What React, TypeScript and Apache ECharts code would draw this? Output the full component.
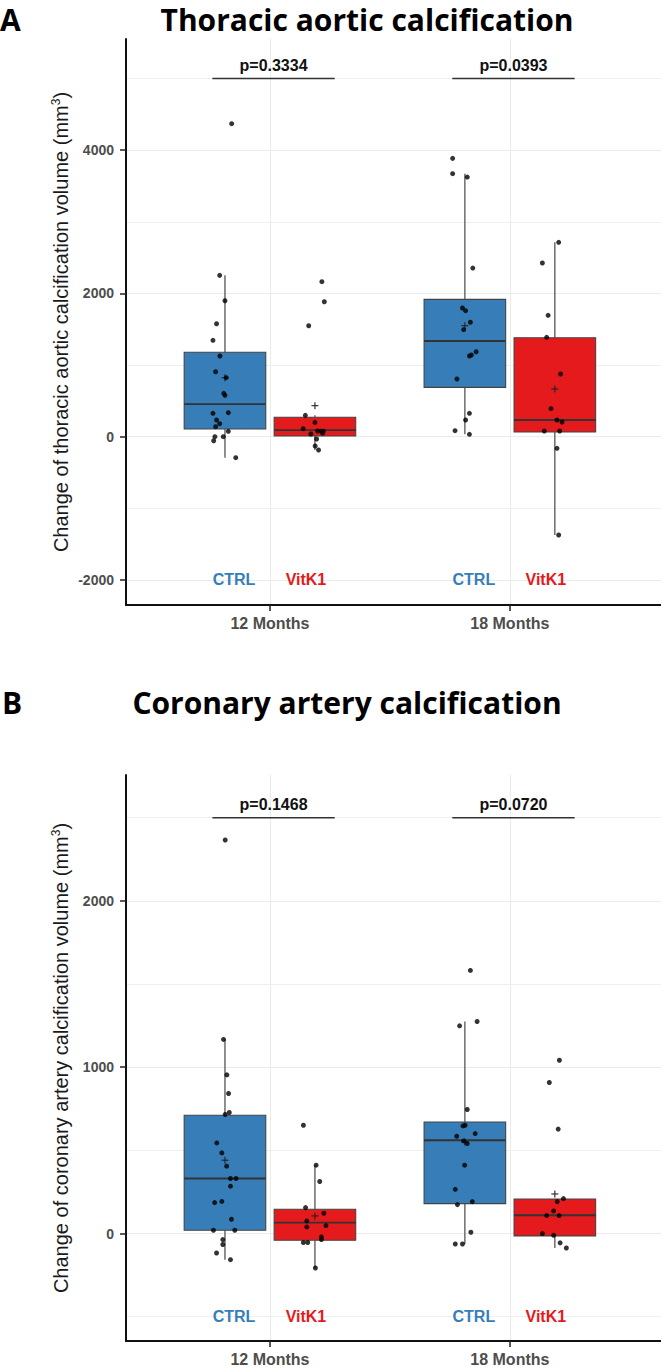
import React, { useEffect, useRef } from "react";
import * as echarts from "echarts";

// ---------- shared ----------
const timepoints = ["12 Months", "18 Months"];
const groupNames = ["CTRL", "VitK1"];
const groupColors = ["#377EB8", "#E41A1C"];

// ---------- Panel A: thoracic aortic calcification (mm3) ----------
const tacCtrl12 = [4369, 2252, 1898, 1577, 1345, 1126, 907, 824, 605, 577, 326, 335, 233, 182, 140, 75, 0, 0, -56, -293];
const tacCtrl12Jitter = [0.028, -0.022, 0, -0.035, -0.05, -0.021, -0.039, 0.005, -0.005, 0, -0.05, 0.014, -0.035, -0.022, -0.039, 0.014, -0.042, -0.007, -0.047, 0.045];
const tacVitK12 = [2164, 1884, 1549, 298, 200, 112, 38, 80, 77, 77, 49, -32, -130, -186];
const tacVitK12Jitter = [0.029, 0.039, -0.026, -0.04, 0, -0.049, -0.017, 0.011, 0.025, 0.035, 0.032, 0.007, 0.001, 0.015];
const tacCtrl18 = [3885, 3671, 3624, 2354, 1796, 1759, 1597, 1494, 1186, 1140, 1126, 805, 326, 233, 84, 33];
const tacCtrl18Jitter = [-0.051, -0.051, 0.01, 0.033, -0.01, 0.003, 0.023, -0.005, 0.047, 0.027, 0.019, -0.033, 0.019, 0.003, -0.041, 0.019];
const tacVitK18 = [2713, 2424, 1694, 1387, 875, 391, 233, 205, 80, 80, -162, -1372];
const tacVitK18Jitter = [0.016, -0.052, -0.028, -0.034, 0.024, -0.016, 0.009, 0.03, -0.044, 0.02, 0.009, 0.016];
// [lower whisker, Q1, median, Q3, upper whisker] per time point
const tacBoxCtrl = [[-293, 107, 456, 1178, 2252], [33, 689, 1336, 1917, 3671]];
const tacBoxVitK = [[-186, 10, 93, 271, 298], [-1372, 66, 233, 1382, 2713]];
const tacMeanCtrl = [823, 1549];
const tacMeanVitK = [433, 666];
const tacPValues = ["p=0.3334", "p=0.0393"];
const tacBracketY = 5000;
const tacGroupLabelY = -2000;
const tacYTicks = [-2000, 0, 2000, 4000];
const tacYMinor = [-1000, 1000, 3000, 5000];
const tacYRange = [-2349, 5551];

// ---------- Panel B: coronary artery calcification (mm3) ----------
const cacCtrl12 = [2366, 1167, 954, 842, 728, 716, 545, 485, 405, 331, 331, 285, 186, 193, 86, 20, 20, -36, -66, -117, -157];
const cacCtrl12Jitter = [0.001, -0.006, 0.008, 0.015, 0.018, 0.001, -0.034, -0.013, 0.007, 0.023, 0.046, 0.023, -0.043, -0.013, 0.027, -0.048, 0.041, -0.009, -0.009, -0.035, 0.023];
const cacVitK12 = [651, 411, 313, 156, 122, 76, 48, 40, -20, -36, -54, -54, -207];
const cacVitK12Jitter = [-0.048, 0.005, 0.02, -0.039, 0.037, -0.034, 0.046, -0.034, 0.027, 0.027, -0.048, -0.03, 0.002];
const cacCtrl18 = [1582, 1275, 1249, 746, 651, 647, 601, 585, 557, 541, 411, 266, 192, 174, 8, -63, -63];
const cacCtrl18Jitter = [0.023, 0.051, -0.022, 0.01, 0.001, -0.008, 0.043, -0.034, -0.005, 0.01, -0.001, -0.04, 0.031, -0.031, 0.025, -0.04, -0.01];
const cacVitK18 = [1042, 908, 628, 210, 192, 136, 108, 108, 0, -10, -56, -87];
const cacVitK18Jitter = [0.019, -0.023, 0.014, 0.036, 0.01, -0.005, -0.034, 0.018, -0.052, -0.005, 0.022, 0.048];
const cacBoxCtrl = [[-157, 20, 331, 711, 1167], [-63, 180, 561, 671, 1275]];
const cacBoxVitK = [[-207, -40, 66, 146, 411], [-87, -14, 110, 208, 210]];
const cacMeanCtrl = [441, 551];
const cacMeanVitK = [106, 238];
const cacPValues = ["p=0.1468", "p=0.0720"];
const cacBracketY = 2500;
const cacGroupLabelY = -500;
const cacYTicks = [0, 1000, 2000];
const cacYMinor = [-500, 500, 1500, 2500];
const cacYRange = [-646, 2757];

// ---------- layout constants ----------
const BOX_OFFSET = 0.1875;
const BOX_WIDTH = 0.34;
const LABEL_OFFSET = 0.15;
const X_MIN = 0.4;
const X_MAX = 2.63;
const TICK_FONT = '"Liberation Sans", Arial, sans-serif';
const TITLE_FONT = '"Open Sans", "Liberation Sans", sans-serif';

type PanelData = {
  ctrl: number[][];
  ctrlJitter: number[][];
  vitk: number[][];
  vitkJitter: number[][];
  boxCtrl: number[][];
  boxVitK: number[][];
  meanCtrl: number[];
  meanVitK: number[];
  pValues: string[];
  bracketY: number;
  groupLabelY: number;
  yTicks: number[];
  yMinor: number[];
  yRange: number[];
};

const panels: PanelData[] = [
  {
    ctrl: [tacCtrl12, tacCtrl18],
    ctrlJitter: [tacCtrl12Jitter, tacCtrl18Jitter],
    vitk: [tacVitK12, tacVitK18],
    vitkJitter: [tacVitK12Jitter, tacVitK18Jitter],
    boxCtrl: tacBoxCtrl,
    boxVitK: tacBoxVitK,
    meanCtrl: tacMeanCtrl,
    meanVitK: tacMeanVitK,
    pValues: tacPValues,
    bracketY: tacBracketY,
    groupLabelY: tacGroupLabelY,
    yTicks: tacYTicks,
    yMinor: tacYMinor,
    yRange: tacYRange,
  },
  {
    ctrl: [cacCtrl12, cacCtrl18],
    ctrlJitter: [cacCtrl12Jitter, cacCtrl18Jitter],
    vitk: [cacVitK12, cacVitK18],
    vitkJitter: [cacVitK12Jitter, cacVitK18Jitter],
    boxCtrl: cacBoxCtrl,
    boxVitK: cacBoxVitK,
    meanCtrl: cacMeanCtrl,
    meanVitK: cacMeanVitK,
    pValues: cacPValues,
    bracketY: cacBracketY,
    groupLabelY: cacGroupLabelY,
    yTicks: cacYTicks,
    yMinor: cacYMinor,
    yRange: cacYRange,
  },
];

const gridTops = [39, 775];
const gridHeight = 566;

function buildOption() {
  const grid: any[] = [];
  const xAxis: any[] = [];
  const yAxis: any[] = [];
  const series: any[] = [];

  panels.forEach((p, pi) => {
    grid.push({ left: 126, top: gridTops[pi], width: 535, height: gridHeight, containLabel: false });
    xAxis.push({
      type: "value",
      gridIndex: pi,
      min: X_MIN,
      max: X_MAX,
      axisLine: { show: true, onZero: false, lineStyle: { color: "#111", width: 2 } },
      axisTick: { show: true, customValues: [1, 2], length: 6, lineStyle: { color: "#222", width: 1.5 } },
      axisLabel: {
        show: true,
        customValues: [1, 2],
        formatter: (v: number) => timepoints[Math.round(v) - 1] || "",
        fontFamily: TICK_FONT,
        fontWeight: "bold",
        fontSize: 16,
        color: "#4D4D4D",
        margin: 10,
      },
      splitLine: { show: true, lineStyle: { color: "#EBEBEB", width: 1 } },
    });
    const yMajorIdx = yAxis.length;
    yAxis.push({
      type: "value",
      gridIndex: pi,
      min: p.yRange[0],
      max: p.yRange[1],
      axisLine: { show: true, onZero: false, lineStyle: { color: "#111", width: 2 } },
      axisTick: { show: true, customValues: p.yTicks, length: 6, lineStyle: { color: "#222", width: 1.5 } },
      axisLabel: {
        show: true,
        customValues: p.yTicks,
        formatter: (v: number) => String(v),
        fontFamily: TICK_FONT,
        fontWeight: "bold",
        fontSize: 14,
        color: "#4D4D4D",
        margin: 12,
      },
      splitLine: { show: true, lineStyle: { color: "#EBEBEB", width: 1 } },
    });
    yAxis.push({
      type: "value",
      gridIndex: pi,
      min: p.yRange[0],
      max: p.yRange[1],
      axisLine: { show: false, onZero: false },
      axisTick: { show: false, customValues: p.yMinor },
      axisLabel: { show: false, customValues: p.yMinor },
      splitLine: { show: true, lineStyle: { color: "#EFEFEF", width: 1 } },
    });

    // boxes
    const boxData: number[][] = [];
    timepoints.forEach((_, i) => {
      boxData.push([i + 1 - BOX_OFFSET, ...p.boxCtrl[i], p.meanCtrl[i], 0]);
      boxData.push([i + 1 + BOX_OFFSET, ...p.boxVitK[i], p.meanVitK[i], 1]);
    });
    series.push({
      type: "custom",
      name: "box" + pi,
      xAxisIndex: pi,
      yAxisIndex: yMajorIdx,
      z: 2,
      silent: true,
      data: boxData,
      encode: { x: 0, y: [1, 2, 3, 4, 5] },
      renderItem: (params: any, api: any) => {
        const x = api.value(0);
        const lo = api.coord([x, api.value(1)]);
        const q1 = api.coord([x, api.value(2)]);
        const med = api.coord([x, api.value(3)]);
        const q3 = api.coord([x, api.value(4)]);
        const hi = api.coord([x, api.value(5)]);
        const mean = api.coord([x, api.value(6)]);
        const gi = api.value(7);
        const left = api.coord([x - BOX_WIDTH / 2, api.value(3)])[0];
        const right = api.coord([x + BOX_WIDTH / 2, api.value(3)])[0];
        const cx = med[0];
        const stroke = "#444";
        return {
          type: "group",
          children: [
            { type: "line", shape: { x1: cx, y1: hi[1], x2: cx, y2: q3[1] }, style: { stroke: "#555", lineWidth: 1.3 } },
            { type: "line", shape: { x1: cx, y1: q1[1], x2: cx, y2: lo[1] }, style: { stroke: "#555", lineWidth: 1.3 } },
            {
              type: "rect",
              shape: { x: left, y: q3[1], width: right - left, height: q1[1] - q3[1] },
              style: { fill: groupColors[gi], stroke: stroke, lineWidth: 1.1 },
            },
            { type: "line", shape: { x1: left, y1: med[1], x2: right, y2: med[1] }, style: { stroke: "#333", lineWidth: 1.8 } },
            { type: "line", shape: { x1: cx - 3.5, y1: mean[1], x2: cx + 3.5, y2: mean[1] }, style: { stroke: "#222", lineWidth: 1.1 } },
            { type: "line", shape: { x1: cx, y1: mean[1] - 3.5, x2: cx, y2: mean[1] + 3.5 }, style: { stroke: "#222", lineWidth: 1.1 } },
          ],
        };
      },
    });

    // jittered points
    const pts: number[][] = [];
    timepoints.forEach((_, i) => {
      p.ctrl[i].forEach((v, k) => pts.push([i + 1 - BOX_OFFSET + p.ctrlJitter[i][k], v]));
      p.vitk[i].forEach((v, k) => pts.push([i + 1 + BOX_OFFSET + p.vitkJitter[i][k], v]));
    });
    series.push({
      type: "scatter",
      name: "points" + pi,
      xAxisIndex: pi,
      yAxisIndex: yMajorIdx,
      z: 4,
      silent: true,
      symbol: "circle",
      symbolSize: 5,
      itemStyle: { color: "#000" },
      data: pts,
    });

    // group labels + p-value brackets
    const annData: number[][] = [];
    timepoints.forEach((_, i) => {
      annData.push([i + 1 - LABEL_OFFSET, p.groupLabelY, 0, i]);
      annData.push([i + 1 + LABEL_OFFSET, p.groupLabelY, 1, i]);
      annData.push([i + 1, p.bracketY, 2, i]);
    });
    series.push({
      type: "custom",
      name: "ann" + pi,
      xAxisIndex: pi,
      yAxisIndex: yMajorIdx,
      z: 5,
      silent: true,
      data: annData,
      encode: { x: 0, y: 1 },
      renderItem: (params: any, api: any) => {
        const kind = api.value(2);
        const ti = api.value(3);
        const pt = api.coord([api.value(0), api.value(1)]);
        if (kind < 2) {
          return {
            type: "text",
            x: pt[0],
            y: pt[1],
            style: {
              text: groupNames[kind],
              fill: groupColors[kind],
              fontFamily: TICK_FONT,
              fontWeight: "bold",
              fontSize: 16,
              align: "center",
              verticalAlign: "middle",
            },
          };
        }
        const x1 = api.coord([api.value(0) - 0.24, api.value(1)])[0];
        const x2 = api.coord([api.value(0) + 0.27, api.value(1)])[0];
        return {
          type: "group",
          children: [
            { type: "line", shape: { x1, y1: pt[1], x2, y2: pt[1] }, style: { stroke: "#333", lineWidth: 1.6 } },
            {
              type: "text",
              x: (x1 + x2) / 2,
              y: pt[1] - 5,
              style: {
                text: p.pValues[ti],
                fill: "#111",
                fontFamily: TICK_FONT,
                fontWeight: "bold",
                fontSize: 16,
                align: "center",
                verticalAlign: "bottom",
              },
            },
          ],
        };
      },
    });
  });

  const axisTitleRich = {
    a: { fontFamily: TICK_FONT, fontSize: 20, fill: "#1A1A1A", color: "#1A1A1A" },
    sup: { fontFamily: TICK_FONT, fontSize: 12, fill: "#1A1A1A", color: "#1A1A1A", verticalAlign: "top", padding: [0, 0, 10, 0] },
  };

  const graphic = [
    {
      type: "text",
      x: 0,
      y: 19,
      style: { text: "A", fontFamily: TITLE_FONT, fontWeight: "bold", fontSize: 30, fill: "#000", align: "left", verticalAlign: "middle" },
    },
    {
      type: "text",
      x: 367,
      y: 19,
      style: {
        text: "Thoracic aortic calcification",
        fontFamily: TITLE_FONT,
        fontWeight: "bold",
        fontSize: 30,
        fill: "#000",
        align: "center",
        verticalAlign: "middle",
      },
    },
    {
      type: "text",
      x: 2,
      y: 702,
      style: { text: "B", fontFamily: TITLE_FONT, fontWeight: "bold", fontSize: 30, fill: "#000", align: "left", verticalAlign: "middle" },
    },
    {
      type: "text",
      x: 347,
      y: 702,
      style: {
        text: "Coronary artery calcification",
        fontFamily: TITLE_FONT,
        fontWeight: "bold",
        fontSize: 30,
        fill: "#000",
        align: "center",
        verticalAlign: "middle",
      },
    },
    {
      type: "text",
      x: 61,
      y: gridTops[0] + gridHeight / 2,
      rotation: Math.PI / 2,
      style: {
        text: "{a|Change of thoracic aortic calcification volume (mm}{sup|3}{a|)}",
        rich: axisTitleRich,
        align: "center",
        verticalAlign: "middle",
      },
    },
    {
      type: "text",
      x: 61,
      y: gridTops[1] + gridHeight / 2,
      rotation: Math.PI / 2,
      style: {
        text: "{a|Change of coronary artery calcification volume (mm}{sup|3}{a|)}",
        rich: axisTitleRich,
        align: "center",
        verticalAlign: "middle",
      },
    },
  ];

  return {
    animation: false,
    backgroundColor: "#FFFFFF",
    grid,
    xAxis,
    yAxis,
    series,
    graphic,
  };
}

export default function App() {
  const ref = useRef<HTMLDivElement>(null);
  useEffect(() => {
    if (!ref.current) return;
    const chart = echarts.init(ref.current, undefined, { renderer: "svg" });
    chart.setOption(buildOption() as any);
    return () => chart.dispose();
  }, []);
  return (
    <div
      ref={ref}
      style={{ position: "absolute", left: 0, top: 0, width: 661, height: 1368, background: "#fff" }}
    />
  );
}
